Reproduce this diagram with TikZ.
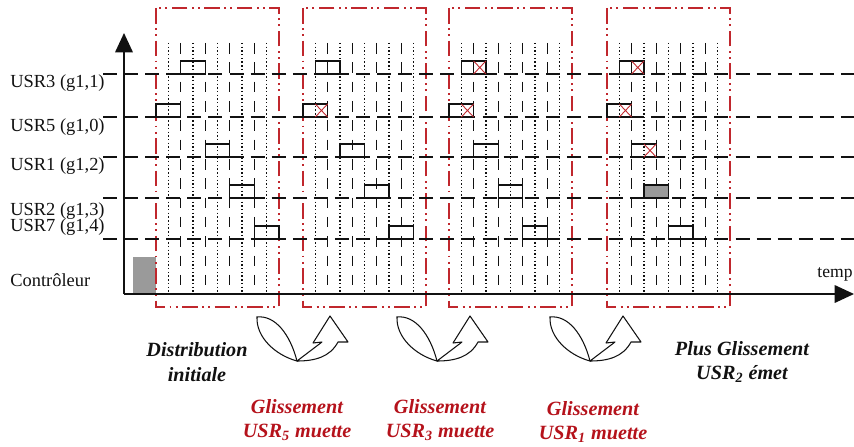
\documentclass[tikz,border=0pt]{standalone}
\usepackage{xcolor}
\usepackage{fontspec}
\setmainfont{Liberation Serif}
\usepackage{tikz}
\usetikzlibrary{arrows.meta}
\definecolor{inkK}{HTML}{111111}
\definecolor{frameRed}{HTML}{C0272D}
\definecolor{txtRed}{HTML}{B5121B}
\definecolor{slotGray}{HTML}{9A9A9A}

\tikzset{
  rowline/.style={draw=inkK, line width=0.75pt, dash pattern=on 8pt off 4pt},
  slotdash/.style={draw=inkK, line width=0.75pt, dash pattern=on 6pt off 5pt},
  slotdot/.style={draw=inkK, line width=0.75pt, dash pattern=on 0.8pt off 1.3pt},
  frame/.style={draw=frameRed, line width=0.8pt,
    dash pattern=on 9pt off 2.5pt on 1pt off 2.5pt on 1pt off 2.5pt},
  axis/.style={draw=inkK, line width=0.9pt, -{Triangle[length=11pt,width=10pt]}},
  rowlabel/.style={anchor=west, inner sep=0pt, text=inkK,
    font=\fontsize{10.5}{12}\selectfont},
  phase/.style={align=center, inner sep=1pt, text=inkK,
    font=\fontsize{11.5}{14}\selectfont\bfseries\itshape},
  slotplain/.pic={\draw[inkK, line width=0.7pt] (0,0) rectangle (24.6,-13);},
  slotmuted/.pic={
    \draw[inkK, line width=0.7pt] (0,0) rectangle (24.6,-13);
    \draw[frameRed, line width=0.5pt] (12.3,0) -- (24.6,-13) (12.3,-13) -- (24.6,0);},
  slotsent/.pic={\draw[inkK, fill=slotGray, line width=0.7pt] (0,0) rectangle (24.6,-13);},
  uturn/.pic={
    \draw[inkK, line width=0.6pt] (0,0) .. controls (-7,-27) and (-22,-46) .. (-40,-44)
      .. controls (-41,-24) and (-22,-6) .. cycle;
    \draw[inkK, line width=0.6pt, line join=round] (0,0) -- (25,-19) -- (16,-18) -- (33,-45)
      -- (51,-19) -- (41,-19) .. controls (33,-4) and (18,0) .. cycle;},
}

\begin{document}
\begin{tikzpicture}[x=0.02cm, y=-0.02cm]
  \useasboundingbox (0,0) rectangle (854,446);

  % controleur
  \fill[slotGray] (133,257) rectangle (156,294);

  % trames
  \foreach \fx in {156,303,449,607} {
    \draw[frame] (\fx,8) rectangle ({\fx+123},307);
    \foreach \k in {1,3,5,7,9}
      \draw[slotdot] ({\fx+\k*12.3},43) -- ({\fx+\k*12.3},294);
    \foreach \k in {2,4,6,8}
      \draw[slotdash] ({\fx+\k*12.3},43) -- ({\fx+\k*12.3},294);
  }

  % utilisateurs
  \foreach \n/\y/\ty/\txt in {3/74/83/{USR3 (g1,1)}, 5/117/127/{USR5 (g1,0)},
      1/157/166/{USR1 (g1,2)}, 2/198/211/{USR2 (g1,3)}, 7/239/227/{USR7 (g1,4)}} {
    \node[rowlabel] (usr\n) at (10,\ty) {\txt};
    \draw[rowline] (103,\y) -- (854,\y);
  }
  \node[rowlabel] (ctrl) at (10,280) {Contrôleur};

  % axes
  \coordinate (O) at (124,294);
  \coordinate (ytop) at (124,33);
  \coordinate (xend) at (854,294);
  \draw[axis] (O) -- (ytop);
  \draw[axis] (O) -- (xend);
  \node[font=\fontsize{10}{12}\selectfont, text=inkK] (temp) at (835,274) {temp};

  % intervalles
  \foreach \fx/\k/\y/\kind in {
      156/0/117/plain, 156/2/74/plain, 156/4/157/plain, 156/6/198/plain, 156/8/239/plain,
      303/0/117/muted, 303/1/74/plain, 303/3/157/plain, 303/5/198/plain, 303/7/239/plain,
      449/0/117/muted, 449/1/74/muted, 449/2/157/plain, 449/4/198/plain, 449/6/239/plain,
      607/0/117/muted, 607/1/74/muted, 607/2/157/muted, 607/3/198/sent, 607/5/239/plain}
    \pic at ({\fx+\k*12.3},\y) {slot\kind};

  % passages
  \pic at (297,361) {uturn};
  \pic at (437,361) {uturn};
  \pic at (590,361) {uturn};

  \node[phase] (dist) at (197,362) {Distribution\\initiale};
  \node[phase, text=txtRed] (gl5) at (297,420) {Glissement\\USR\textsubscript{5} muette};
  \node[phase, text=txtRed] (gl3) at (440,420) {Glissement\\USR\textsubscript{3} muette};
  \node[phase, text=txtRed] (gl1) at (593,422) {Glissement\\USR\textsubscript{1} muette};
  \node[phase] (plus) at (742,362) {Plus Glissement\\USR\textsubscript{2} émet};
\end{tikzpicture}
\end{document}
